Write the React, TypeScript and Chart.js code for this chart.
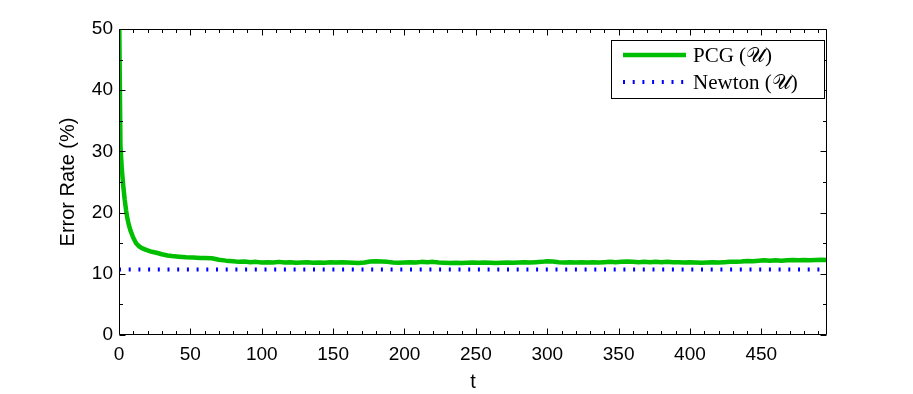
import { useEffect, useRef } from 'react';
import { Chart, registerables } from 'chart.js';

Chart.register(...registerables);

// ---- data ----
const pcgT = [
  0, 1, 2, 3, 4, 5, 6, 7, 8, 10, 12, 14, 16, 19, 23, 27, 30, 34, 37, 42, 47, 52, 57, 60, 65, 70, 75,
  80, 84, 88, 92, 96, 100, 104, 108, 112, 116, 120, 124, 128, 132, 136, 140, 144, 148, 152, 156, 160,
  164, 168, 172, 176, 180, 184, 188, 192, 196, 200, 204, 208, 212, 216, 220, 224, 228, 232, 236, 240,
  244, 248, 252, 256, 260, 264, 268, 272, 276, 280, 284, 288, 292, 296, 300, 304, 308, 312, 316, 320,
  324, 328, 332, 336, 340, 344, 348, 352, 356, 360, 364, 368, 372, 376, 380, 384, 388, 392, 396, 400,
  404, 408, 412, 416, 420, 424, 428, 432, 436, 440, 444, 448, 452, 456, 460, 464, 468, 472, 476, 480,
  484, 488, 492, 496,
];
const pcgError = [
  55, 31, 27, 24.3, 22.1, 20.3, 18.9, 17.9, 17.1, 15.9, 15.0, 14.5, 14.2, 13.9, 13.6, 13.4, 13.2, 13.0, 12.9, 12.8, 12.7, 12.65, 12.6, 12.6, 12.55, 12.3, 12.15,
  12.05, 11.95, 12.0, 11.9, 11.95, 11.85, 11.9, 11.85, 11.95, 11.85, 11.9, 11.8, 11.85, 11.9, 11.8, 11.85, 11.8, 11.9, 11.85, 11.9, 11.85,
  11.8, 11.75, 11.85, 12.0, 12.05, 12.0, 11.95, 11.85, 11.8, 11.85, 11.9, 11.85, 11.95, 11.9, 11.95, 11.85, 11.8, 11.75, 11.8, 11.75,
  11.8, 11.85, 11.8, 11.85, 11.8, 11.75, 11.8, 11.85, 11.8, 11.85, 11.9, 11.85, 11.9, 11.95, 12.05, 12.0, 11.9, 11.85, 11.9, 11.85,
  11.9, 11.85, 11.9, 11.85, 11.9, 11.95, 11.9, 11.95, 12.0, 11.95, 11.9, 11.95, 11.9, 11.95, 11.9, 11.95, 11.9, 11.9, 11.85, 11.9,
  11.85, 11.8, 11.85, 11.9, 11.85, 11.9, 11.95, 11.95, 12.0, 12.1, 12.05, 12.15, 12.2, 12.15, 12.2, 12.15, 12.2, 12.25, 12.2, 12.25,
  12.2, 12.25, 12.3, 12.25,
];
const newtonT = [0, 496];
const newtonError = [10.7, 10.7];

const seriesLabels = ['PCG (\u{1D4B0})', 'Newton (\u{1D4B0})'];
const xTickValues = [0, 50, 100, 150, 200, 250, 300, 350, 400, 450];
const yTickValues = [0, 10, 20, 30, 40, 50];
const xMinorStep = 10;
const yMinorStep = 5;
const xTitle = 't';
const yTitle = 'Error Rate (%)';

const GREEN = 'rgb(0,191,0)';
const BLUE = '#0000ff';
const NEWTON_DASH = [2, 7.7];

const boxAndTicks = {
  id: 'boxAndTicks',
  afterDatasetsDraw(chart: any) {
    const { ctx, chartArea: a, scales } = chart;
    const xs = scales.x;
    const ys = scales.y;
    ctx.save();
    ctx.strokeStyle = '#000';
    ctx.lineWidth = 1;
    ctx.beginPath();
    const L = Math.round(a.left) + 0.5;
    const R = Math.round(a.right) - 0.5;
    const T = Math.round(a.top) + 0.5;
    const B = Math.round(a.bottom) - 0.5;
    ctx.rect(L, T, R - L, B - T);
    const major = 6;
    const minor = 3.5;
    for (let v = 0; v <= xs.max; v += xMinorStep) {
      const len = xTickValues.includes(v) ? major : minor;
      const px = Math.round(xs.getPixelForValue(v)) + 0.5;
      ctx.moveTo(px, B);
      ctx.lineTo(px, B - len);
      ctx.moveTo(px, T);
      ctx.lineTo(px, T + len);
    }
    for (let v = 0; v <= ys.max; v += yMinorStep) {
      const len = yTickValues.includes(v) ? major : minor;
      const py = Math.round(ys.getPixelForValue(v)) + 0.5;
      ctx.moveTo(L, py);
      ctx.lineTo(L + len, py);
      ctx.moveTo(R, py);
      ctx.lineTo(R - len, py);
    }
    ctx.stroke();
    ctx.restore();
  },
  afterDraw(chart: any) {
    const { ctx } = chart;
    const ds = chart.data.datasets;
    ctx.save();
    const bx = 611.5, by = 40.5, bw = 213, bh = 58;
    ctx.fillStyle = '#fff';
    ctx.fillRect(bx, by, bw, bh);
    ctx.strokeStyle = '#000';
    ctx.lineWidth = 1;
    ctx.strokeRect(bx, by, bw, bh);
    const rows = [55, 82];
    ds.forEach((d: any, i: number) => {
      const y = rows[i];
      ctx.beginPath();
      ctx.strokeStyle = d.borderColor;
      ctx.lineWidth = d.borderWidth;
      ctx.setLineDash(d.borderDash || []);
      ctx.lineCap = 'butt';
      ctx.moveTo(623, y);
      ctx.lineTo(686, y);
      ctx.stroke();
      ctx.setLineDash([]);
      ctx.fillStyle = '#000';
      ctx.font = '21px "Liberation Serif", "DejaVu Serif", serif';
      ctx.textBaseline = 'middle';
      ctx.textAlign = 'left';
      ctx.fillText(d.label, 693, y + 1);
    });
    ctx.restore();
  },
};

export default function App() {
  const ref = useRef<HTMLCanvasElement>(null);
  useEffect(() => {
    if (!ref.current) return;
    const tickFont = { family: '"Liberation Sans", Arial, sans-serif', size: 19 };
    const chart = new Chart(ref.current, {
      type: 'line',
      data: {
        datasets: [
          {
            label: seriesLabels[0],
            data: pcgT.map((t, i) => ({ x: t, y: pcgError[i] })),
            borderColor: GREEN,
            backgroundColor: GREEN,
            borderWidth: 4.5,
            pointRadius: 0,
            borderJoinStyle: 'round',
            fill: false,
          },
          {
            label: seriesLabels[1],
            data: newtonT.map((t, i) => ({ x: t, y: newtonError[i] })),
            borderColor: BLUE,
            backgroundColor: BLUE,
            borderWidth: 4,
            borderDash: NEWTON_DASH,
            borderCapStyle: 'butt',
            pointRadius: 0,
            fill: false,
          },
        ],
      },
      options: {
        animation: false,
        responsive: false,
        layout: { padding: { left: 0, top: 29, right: 86, bottom: 0 } },
        plugins: { legend: { display: false }, tooltip: { enabled: false } },
        scales: {
          x: {
            type: 'linear',
            min: 0,
            max: 496,
            grid: { display: false, drawTicks: false },
            border: { display: false },
            afterBuildTicks: (s: any) => {
              s.ticks = xTickValues.map((v) => ({ value: v }));
            },
            afterFit: (s: any) => {
              s.height = 59;
            },
            ticks: { padding: 8, font: tickFont, color: '#000', maxRotation: 0, autoSkip: false },
            title: {
              display: true,
              text: xTitle,
              color: '#000',
              font: { family: '"Liberation Sans", Arial, sans-serif', size: 20 },
              padding: { top: 1, bottom: 0 },
            },
          },
          y: {
            type: 'linear',
            min: 0,
            max: 50,
            grid: { display: false, drawTicks: false },
            border: { display: false },
            afterBuildTicks: (s: any) => {
              s.ticks = yTickValues.map((v) => ({ value: v }));
            },
            afterFit: (s: any) => {
              s.width = 119;
            },
            ticks: { padding: 6, font: tickFont, color: '#000', autoSkip: false },
            title: {
              display: true,
              text: yTitle,
              color: '#000',
              font: { family: '"Liberation Sans", Arial, sans-serif', size: 20 },
              padding: { top: 56, bottom: 0 },
            },
          },
        },
      },
      plugins: [boxAndTicks],
    } as any);
    return () => chart.destroy();
  }, []);
  return (
    <div style={{ position: 'absolute', left: 0, top: 0, width: 913, height: 394, background: '#fff' }}>
      <canvas ref={ref} width={913} height={394} />
    </div>
  );
}
